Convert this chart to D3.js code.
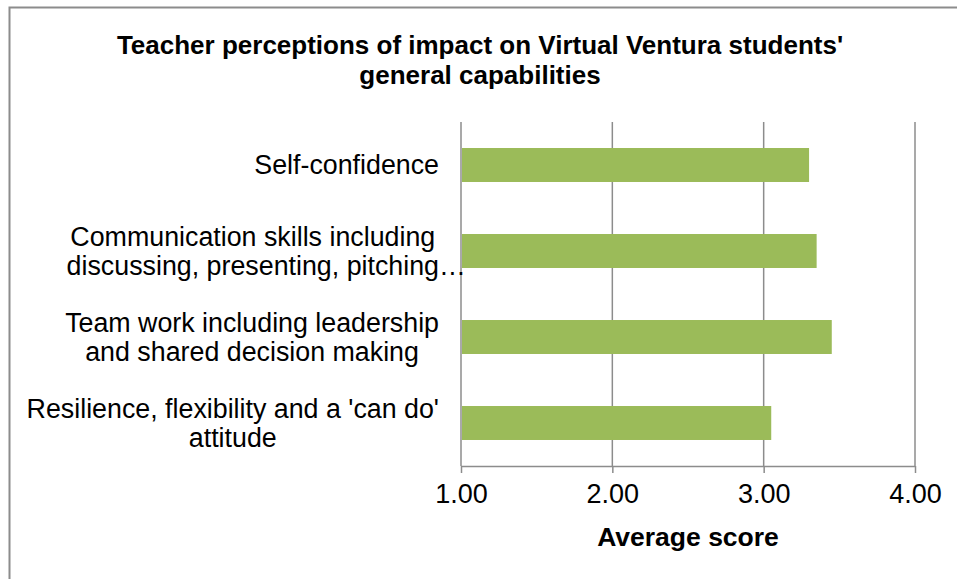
<!DOCTYPE html>
<html><head><meta charset="utf-8">
<script src="https://cdn.jsdelivr.net/npm/d3@7"></script>
<style>body{margin:0;background:#fff;} svg{display:block;font-family:"Liberation Sans",Arial,sans-serif;}</style>
</head><body>
<script>
const categories = [
  ["Self-confidence"],
  ["Communication skills including", "discussing, presenting, pitching…"],
  ["Team work including leadership", "and shared decision making"],
  ["Resilience, flexibility and a 'can do'", "attitude"]
];
const values = [3.30, 3.35, 3.45, 3.05];
const tickValues = [1, 2, 3, 4];
const titleLines = ["Teacher perceptions of impact on Virtual Ventura students'", "general capabilities"];
const xTitle = "Average score";

const W = 957, H = 579;
const svg = d3.select("body").append("svg").attr("width", W).attr("height", H);
svg.append("rect").attr("width", W).attr("height", H).attr("fill", "#fff");
svg.append("path").attr("d", `M9.5,${H+5} V7.5 H${W+5}`).attr("fill","none").attr("stroke","#8c8c8c").attr("stroke-width",2);

const plot = {left: 461, right: 915, top: 122, bottom: 466};
const x = d3.scaleLinear().domain([1, 4]).range([plot.left, plot.right]);
const idx = categories.map((d, i) => i);
const y = d3.scaleBand().domain(idx).range([plot.top, plot.bottom]).paddingInner(0.605).paddingOuter(0.3025);

const t = svg.append("text").attr("text-anchor","middle").attr("font-weight","bold").attr("font-size",26).attr("fill","#000");
titleLines.forEach((l,i)=> t.append("tspan").attr("x",480).attr("y",54 + i*30).text(l));

svg.append("g").selectAll("line").data(tickValues).join("line")
  .attr("x1", d => x(d)).attr("x2", d => x(d)).attr("y1", plot.top).attr("y2", plot.bottom)
  .attr("stroke", "#8c8c8c").attr("stroke-width", 1.5);

svg.append("g").selectAll("rect").data(values).join("rect")
  .attr("x", x(1) + 1).attr("y", (d,i) => y(i))
  .attr("width", d => x(d) - x(1) - 1).attr("height", y.bandwidth())
  .attr("fill", "#9BBB59");

const xAxis = d3.axisBottom(x).tickValues(tickValues).tickFormat(d3.format(".2f")).tickSize(7).tickPadding(11);
const gx = svg.append("g").attr("transform", `translate(0,${plot.bottom})`).call(xAxis);
gx.select(".domain").attr("stroke","#8c8c8c").attr("stroke-width",1.5).attr("d", `M${plot.left},0.5H${plot.right}`);
gx.selectAll(".tick line").attr("stroke","#8c8c8c").attr("stroke-width",1.5);
gx.selectAll(".tick text").attr("font-size",27).attr("font-family","Liberation Sans, Arial, sans-serif").attr("fill","#000").attr("dy","0.71em");

svg.append("text").attr("x", (plot.left+plot.right)/2).attr("y", 546).attr("text-anchor","middle")
  .attr("font-weight","bold").attr("font-size",26.5).attr("fill","#000").text(xTitle);

const lineH = 29.5, rightEdge = 439;
categories.forEach((lines, i) => {
  const cy = y(i) + y.bandwidth()/2;
  const g = svg.append("g");
  const texts = lines.map((l, j) => {
    const core = l.replace(/…$/, "");
    const tx = g.append("text").attr("font-size",26.8).attr("fill","#000")
      .attr("y", cy + (j - (lines.length-1)/2) * lineH).attr("dy","0.35em").text(core);
    return {tx, l, core, w: tx.node().getComputedTextLength()};
  });
  const bw = d3.max(texts, d => d.w);
  const c = rightEdge - bw/2;
  texts.forEach(d => { d.tx.attr("x", c - d.w/2); if (d.l !== d.core) d.tx.text(d.l); });
});
</script>
</body></html>
